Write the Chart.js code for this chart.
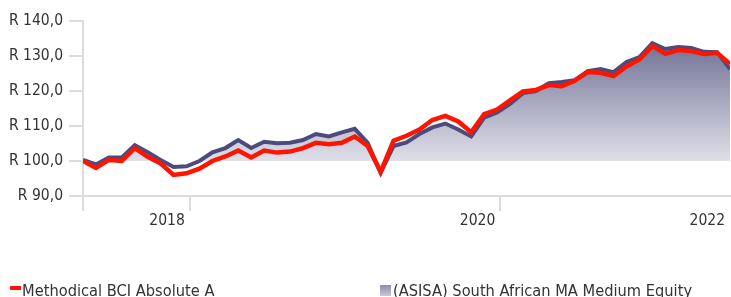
<!DOCTYPE html>
<html>
<head>
<meta charset="utf-8">
<script src="https://cdn.jsdelivr.net/npm/chart.js@4.4.1/dist/chart.umd.min.js"></script>
<style>
    html, body { margin: 0; padding: 0; background: #fff; overflow: hidden; }
    #wrap { position: relative; width: 731px; height: 297px; overflow: hidden; }
    #legend { position: absolute; left: 0; top: 281px; width: 731px; height: 30px;
        font-family: 'DejaVu Sans Condensed', 'Liberation Sans Narrow', sans-serif;
        font-size: 16.3px; color: #333; white-space: nowrap; }
    .item { position: absolute; top: 0; line-height: 20px; }
    .mark { position: absolute; }
</style>
</head>
<body>
<div id="wrap">
    <canvas id="perfChart" width="731" height="297"></canvas>
    <div id="legend"></div>
</div>
<script>
const seriesNames = ['Methodical BCI Absolute A', '(ASISA) South African MA Medium Equity'];

// monthly growth of R100
const fundValues = [
    100.0, 98.0, 100.3, 100.0, 103.7, 101.2, 99.3, 96.0, 96.5, 97.8,
    100.0, 101.3, 103.0, 101.0, 103.0, 102.4, 102.7, 103.7, 105.2, 104.8,
    105.2, 107.0, 104.3, 96.9, 105.8, 107.2, 109.0, 111.7, 112.9, 111.3,
    108.2, 113.4, 114.7, 117.3, 119.9, 120.3, 121.7, 121.4, 122.9, 125.4,
    125.2, 124.3, 127.0, 129.0, 132.9, 130.6, 131.7, 131.4, 130.6, 130.9,
    127.7
];
const sectorValues = [
    100.3, 99.0, 101.0, 101.0, 104.5, 102.5, 100.3, 98.3, 98.5, 100.0,
    102.5, 103.7, 106.0, 103.7, 105.5, 105.1, 105.2, 106.0, 107.7, 107.0,
    108.2, 109.2, 105.2, 96.6, 104.3, 105.3, 107.7, 109.6, 110.7, 109.0,
    107.0, 112.4, 113.9, 116.3, 119.4, 120.0, 122.2, 122.6, 123.1, 125.7,
    126.3, 125.4, 128.3, 129.7, 133.7, 132.0, 132.6, 132.3, 131.2, 131.1,
    126.3
];

const xTickValues = [0, 8.25, 32.25, 50];
const xTickLabels = ['', '2018', '2020', '2022'];
const yTickValues = [90, 100, 110, 120, 130, 140];
const yTickLabels = ['R 90,0', 'R 100,0', 'R 110,0', 'R 120,0', 'R 130,0', 'R 140,0'];

const FONT = "'DejaVu Sans Condensed', 'Liberation Sans Narrow', sans-serif";
const AXIS_GREY = '#dcdcdc';

function toPoints(values) {
    return values.map((v, i) => ({ x: i, y: v }));
}

function areaGradient(context) {
    const chart = context.chart;
    const area = chart.chartArea;
    if (!area) return 'rgba(160,160,190,0.6)';
    const yScale = chart.scales.y;
    const g = chart.ctx.createLinearGradient(0, yScale.getPixelForValue(134), 0, yScale.getPixelForValue(100));
    g.addColorStop(0, 'rgb(112,112,148)');
    g.addColorStop(1, 'rgb(224,224,234)');
    return g;
}

const ctx = document.getElementById('perfChart').getContext('2d');
new Chart(ctx, {
    type: 'line',
    data: {
        datasets: [{
            label: seriesNames[0],
            data: toPoints(fundValues),
            borderColor: '#ff1400',
            borderWidth: 4.5,
            pointRadius: 0,
            tension: 0,
            fill: false,
            order: 0
        }, {
            label: seriesNames[1],
            data: toPoints(sectorValues),
            borderColor: '#4b4b7d',
            borderWidth: 4,
            pointRadius: 0,
            tension: 0,
            fill: { value: 100, above: areaGradient, below: 'rgba(0,0,0,0)' },
            backgroundColor: areaGradient,
            order: 1
        }]
    },
    options: {
        responsive: false,
        animation: false,
        layout: { padding: { top: 21, right: 0, bottom: 0, left: 0 } },
        plugins: {
            legend: { display: false },
            tooltip: { enabled: false }
        },
        scales: {
            x: {
                type: 'linear',
                min: 0,
                max: 50,
                afterBuildTicks: scale => { scale.ticks = xTickValues.map(v => ({ value: v })); },
                afterFit: scale => { scale.height = 101; },
                grid: {
                    drawOnChartArea: false,
                    tickLength: 15,
                    lineWidth: 2,
                    tickColor: c => (c.index === 3 ? 'rgba(0,0,0,0)' : AXIS_GREY)
                },
                border: { color: AXIS_GREY, width: 2 },
                ticks: {
                    autoSkip: false,
                    maxRotation: 0,
                    align: 'end',
                    labelOffset: -5,
                    padding: 1,
                    color: '#333',
                    font: { family: FONT, size: 15.5 },
                    callback: (v, i) => xTickLabels[i]
                }
            },
            y: {
                min: 90,
                max: 140,
                afterBuildTicks: scale => { scale.ticks = yTickValues.map(v => ({ value: v })); },
                afterFit: scale => { scale.width = 83; },
                grid: {
                    drawOnChartArea: false,
                    tickLength: 14,
                    lineWidth: 2,
                    tickColor: AXIS_GREY
                },
                border: { color: AXIS_GREY, width: 2 },
                ticks: {
                    padding: 6,
                    color: '#333',
                    font: { family: FONT, size: 15.5 },
                    callback: (v, i) => yTickLabels[i]
                }
            }
        }
    }
});

// legend laid out like the source: two fixed columns
const legend = document.getElementById('legend');
legend.innerHTML =
    '<span class="mark" style="left:10px;top:5px;width:11px;height:4px;background:#ff1400"></span>' +
    '<span class="item" style="left:22px">' + seriesNames[0] + '</span>' +
    '<span class="mark" style="left:380px;top:4px;width:11px;height:11px;background:linear-gradient(#8c8cab,#c8c8d8)"></span>' +
    '<span class="item" style="left:393px">' + seriesNames[1] + '</span>';
</script>
</body>
</html>
